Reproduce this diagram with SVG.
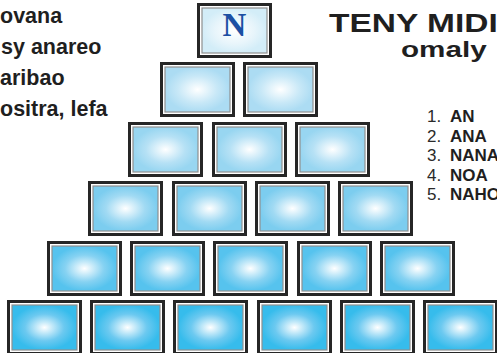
<svg xmlns="http://www.w3.org/2000/svg" width="497" height="353" viewBox="0 0 497 353">
<style>
.outer{fill:#ffffff;stroke:#262626;stroke-width:3}
.inner{stroke:#8f8f8f;stroke-width:1.2}
.lt{font-family:"Liberation Sans",Arial,sans-serif;font-weight:bold;font-size:21.5px;fill:#1f1f1f}
.tt{font-family:"Liberation Sans",Arial,sans-serif;font-weight:bold;fill:#1f1f1f}
.num{font-family:"Liberation Sans",Arial,sans-serif;font-size:17px;fill:#2a2a2a}
.num tspan.w{font-weight:bold;fill:#1f1f1f}
.r1{fill:url(#g1)}.r2{fill:url(#g2)}.r3{fill:url(#g3)}.r4{fill:url(#g4)}.r5{fill:url(#g5)}.r6{fill:url(#g6)}
</style>
<defs>
<radialGradient id="g1" cx="0.5" cy="0.5" r="0.5"><stop offset="0" stop-color="#ffffff"/><stop offset="0.6" stop-color="#e8f5fb"/><stop offset="1" stop-color="#d3edf8"/></radialGradient>
<radialGradient id="g2" cx="0.5" cy="0.5" r="0.5"><stop offset="0" stop-color="#ffffff"/><stop offset="0.6" stop-color="#c8e8f7"/><stop offset="1" stop-color="#acdcf3"/></radialGradient>
<radialGradient id="g3" cx="0.5" cy="0.5" r="0.5"><stop offset="0" stop-color="#ffffff"/><stop offset="0.6" stop-color="#b6e1f5"/><stop offset="1" stop-color="#98d6f1"/></radialGradient>
<radialGradient id="g4" cx="0.5" cy="0.5" r="0.5"><stop offset="0" stop-color="#ffffff"/><stop offset="0.6" stop-color="#a1daf3"/><stop offset="1" stop-color="#7ccdef"/></radialGradient>
<radialGradient id="g5" cx="0.5" cy="0.5" r="0.5"><stop offset="0" stop-color="#ffffff"/><stop offset="0.6" stop-color="#86d2f2"/><stop offset="1" stop-color="#56c3ee"/></radialGradient>
<radialGradient id="g6" cx="0.5" cy="0.5" r="0.5"><stop offset="0" stop-color="#ffffff"/><stop offset="0.6" stop-color="#6cc9f0"/><stop offset="1" stop-color="#36bcec"/></radialGradient>
</defs>
<rect width="497" height="353" fill="#ffffff"/>

<g id="left-text">
<text class="lt" x="0" y="23">ovana</text>
<text class="lt" x="1" y="54">sy anareo</text>
<text class="lt" x="0" y="85">aribao</text>
<text class="lt" x="0" y="116">ositra, lefa</text>
</g>

<g id="title">
<text class="tt" font-size="25" transform="translate(329,32) scale(1.34,1)">TENY MIDI</text>
<text class="tt" font-size="21.5" transform="translate(401,57) scale(1.38,1)">omaly</text>
</g>

<g id="list">
<text class="num" x="427" y="122">1. <tspan class="w" x="450">AN</tspan></text>
<text class="num" x="427" y="142">2. <tspan class="w" x="450">ANA</tspan></text>
<text class="num" x="427" y="161">3. <tspan class="w" x="450">NANA</tspan></text>
<text class="num" x="427" y="181">4. <tspan class="w" x="450">NOA</tspan></text>
<text class="num" x="427" y="200">5. <tspan class="w" x="450">NAHO</tspan></text>
</g>

<g id="box-1-1"><rect class="outer" x="198.5" y="4.5" width="72" height="52"/><rect class="inner r1" x="202" y="8" width="65" height="45"/><text x="234.5" y="36" text-anchor="middle" font-family="Liberation Serif,'Times New Roman',serif" font-weight="bold" font-size="33" fill="#1c4fa3">N</text></g>

<g id="box-2-1"><rect class="outer" x="161.5" y="63.5" width="72" height="52"/><rect class="inner r2" x="165" y="67" width="65" height="45"/></g>
<g id="box-2-2"><rect class="outer" x="244.5" y="63.5" width="72" height="52"/><rect class="inner r2" x="248" y="67" width="65" height="45"/></g>

<g id="box-3-1"><rect class="outer" x="129.5" y="123.5" width="72" height="52"/><rect class="inner r3" x="133" y="127" width="65" height="45"/></g>
<g id="box-3-2"><rect class="outer" x="213.5" y="123.5" width="72" height="52"/><rect class="inner r3" x="217" y="127" width="65" height="45"/></g>
<g id="box-3-3"><rect class="outer" x="296.5" y="123.5" width="72" height="52"/><rect class="inner r3" x="300" y="127" width="65" height="45"/></g>

<g id="box-4-1"><rect class="outer" x="89.5" y="182.5" width="72" height="52"/><rect class="inner r4" x="93" y="186" width="65" height="45"/></g>
<g id="box-4-2"><rect class="outer" x="173.5" y="182.5" width="72" height="52"/><rect class="inner r4" x="177" y="186" width="65" height="45"/></g>
<g id="box-4-3"><rect class="outer" x="256.5" y="182.5" width="72" height="52"/><rect class="inner r4" x="260" y="186" width="65" height="45"/></g>
<g id="box-4-4"><rect class="outer" x="339.5" y="182.5" width="72" height="52"/><rect class="inner r4" x="343" y="186" width="65" height="45"/></g>

<g id="box-5-1"><rect class="outer" x="48.5" y="242.5" width="72" height="52"/><rect class="inner r5" x="52" y="246" width="65" height="45"/></g>
<g id="box-5-2"><rect class="outer" x="131.5" y="242.5" width="72" height="52"/><rect class="inner r5" x="135" y="246" width="65" height="45"/></g>
<g id="box-5-3"><rect class="outer" x="214.5" y="242.5" width="72" height="52"/><rect class="inner r5" x="218" y="246" width="65" height="45"/></g>
<g id="box-5-4"><rect class="outer" x="298.5" y="242.5" width="72" height="52"/><rect class="inner r5" x="302" y="246" width="65" height="45"/></g>
<g id="box-5-5"><rect class="outer" x="381.5" y="242.5" width="72" height="52"/><rect class="inner r5" x="385" y="246" width="65" height="45"/></g>

<g id="box-6-1"><rect class="outer" x="8.5" y="301.5" width="72" height="52"/><rect class="inner r6" x="12" y="305" width="65" height="45"/></g>
<g id="box-6-2"><rect class="outer" x="91.5" y="301.5" width="72" height="52"/><rect class="inner r6" x="95" y="305" width="65" height="45"/></g>
<g id="box-6-3"><rect class="outer" x="174.5" y="301.5" width="72" height="52"/><rect class="inner r6" x="178" y="305" width="65" height="45"/></g>
<g id="box-6-4"><rect class="outer" x="258.5" y="301.5" width="72" height="52"/><rect class="inner r6" x="262" y="305" width="65" height="45"/></g>
<g id="box-6-5"><rect class="outer" x="341.5" y="301.5" width="72" height="52"/><rect class="inner r6" x="345" y="305" width="65" height="45"/></g>
<g id="box-6-6"><rect class="outer" x="424.5" y="301.5" width="72" height="52"/><rect class="inner r6" x="428" y="305" width="65" height="45"/></g>

<g id="connectors"></g>
</svg>
